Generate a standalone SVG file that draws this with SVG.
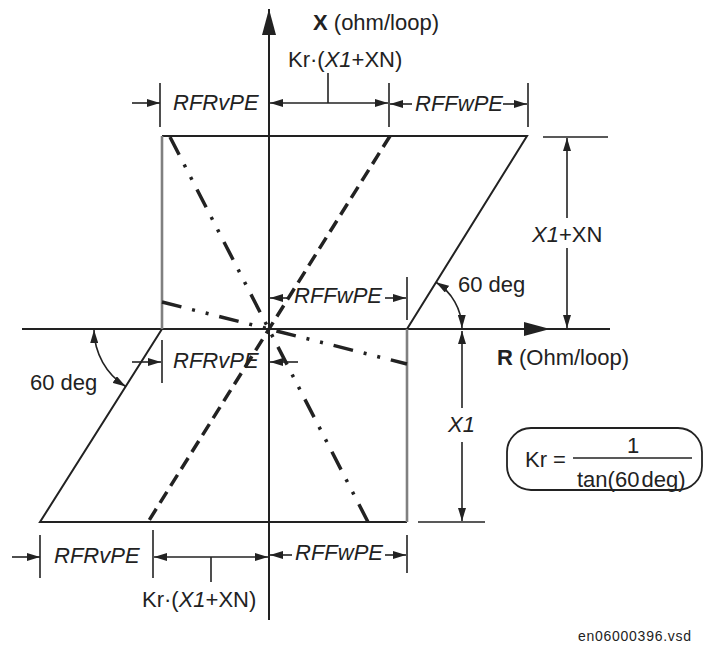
<svg xmlns="http://www.w3.org/2000/svg" width="703" height="646" viewBox="0 0 703 646">
<style>
  text { font-family: "Liberation Sans", Arial, sans-serif; font-size: 22px; fill: #222; }
  .it { font-style: italic; }
  .b { font-weight: bold; }
  .ax { stroke: #222; stroke-width: 2; fill: none; }
  .edge { stroke: #222; stroke-width: 2; fill: none; }
  .gedge { stroke: #808080; stroke-width: 2.6; fill: none; }
  .dim { stroke: #222; stroke-width: 1.6; fill: none; }
  .dimA { stroke: #222; stroke-width: 1.6; fill: none; marker-end: url(#arr); }
  .dimAA { stroke: #222; stroke-width: 1.6; fill: none; marker-start: url(#arr); marker-end: url(#arr); }
  .dash { stroke: #222; stroke-width: 3.5; fill: none; stroke-dasharray: 13 7; }
  .dd { stroke: #222; stroke-width: 3.5; fill: none; stroke-dasharray: 20 11 3 11 3 11; }
</style>
<defs>
  <marker id="arr" viewBox="0 0 13 8" refX="13" refY="4" markerWidth="13" markerHeight="8" markerUnits="userSpaceOnUse" orient="auto-start-reverse">
    <path d="M0,0 L13,4 L0,8 z" fill="#222"/>
  </marker>
  <marker id="axh" viewBox="0 0 26 14" refX="26" refY="7" markerWidth="26" markerHeight="14" markerUnits="userSpaceOnUse" orient="auto">
    <path d="M0,0 L26,7 L0,14 z" fill="#222"/>
  </marker>
</defs>

<g id="axes">
  <line class="ax" x1="269" y1="620" x2="269" y2="9" marker-end="url(#axh)"/>
  <line class="ax" x1="22" y1="329" x2="550" y2="329" marker-end="url(#axh)"/>
  <line class="ax" x1="540" y1="329" x2="610" y2="329"/>
  <text x="313" y="30"><tspan class="b">X</tspan> (ohm/loop)</text>
  <text x="497" y="365"><tspan class="b">R</tspan> (Ohm/loop)</text>
</g>

<g id="characteristic">
  <polyline class="edge" points="162,136 527,136 407,329"/>
  <polyline class="edge" points="162,329 40,522 407,522"/>
  <line class="gedge" x1="162" y1="136" x2="162" y2="329"/>
  <line class="gedge" x1="407" y1="329" x2="407" y2="522"/>
  <line class="dash" x1="390" y1="136" x2="148" y2="522"/>
  <line class="dd" x1="170" y1="137" x2="368" y2="522"/>
  <line class="dd" x1="162" y1="302" x2="407" y2="364"/>
</g>

<g id="formula">
  <rect x="507" y="428" width="195" height="62" rx="24" ry="24" fill="none" stroke="#222" stroke-width="1.8"/>
  <text x="525" y="467">Kr =</text>
  <line x1="573" y1="458" x2="692" y2="458" stroke="#222" stroke-width="1.6"/>
  <text x="633" y="453" text-anchor="middle">1</text>
  <text x="577" y="487" style="word-spacing:-4px">tan(60 deg)</text>
</g>

<g id="connectors">
  <!-- top dimension row -->
  <line class="dim" x1="160" y1="83" x2="160" y2="127"/>
  <line class="dim" x1="389" y1="83" x2="389" y2="127"/>
  <line class="dim" x1="528" y1="83" x2="528" y2="127"/>
  <line class="dimA" x1="132" y1="103" x2="160" y2="103"/>
  <line class="dimAA" x1="270" y1="103" x2="388" y2="103"/>
  <line class="dim" x1="328" y1="73" x2="328" y2="103"/>
  <line class="dimA" x1="412" y1="104" x2="390" y2="104"/>
  <line class="dimA" x1="503" y1="104" x2="527" y2="104"/>
  <!-- right X1+XN -->
  <line class="dim" x1="543" y1="137" x2="608" y2="137"/>
  <line class="dimA" x1="567" y1="218" x2="567" y2="138"/>
  <line class="dimA" x1="567" y1="248" x2="567" y2="328"/>
  <!-- right X1 -->
  <line class="dim" x1="418" y1="522" x2="485" y2="522"/>
  <line class="dimA" x1="462" y1="408" x2="462" y2="331"/>
  <line class="dimA" x1="462" y1="442" x2="462" y2="521"/>
  <!-- 60 deg arcs -->
  <path class="dimAA" d="M 436 282.3 A 55 55 0 0 1 462 328"/>
  <path class="dimAA" d="M 94 330 A 68 68 0 0 0 125.7 386.5"/>
  <!-- middle RFFwPE -->
  <line class="dim" x1="407" y1="277" x2="407" y2="320"/>
  <line class="dimA" x1="288" y1="298" x2="270" y2="298"/>
  <line class="dimA" x1="385" y1="298" x2="406" y2="298"/>
  <!-- middle RFRvPE -->
  <line class="dim" x1="162" y1="340" x2="162" y2="383"/>
  <line class="dimA" x1="132" y1="362" x2="161" y2="362"/>
  <line class="dimA" x1="298" y1="362" x2="270" y2="362"/>
  <!-- bottom row -->
  <line class="dim" x1="40" y1="535" x2="40" y2="578"/>
  <line class="dim" x1="153" y1="530" x2="153" y2="578"/>
  <line class="dim" x1="407" y1="535" x2="407" y2="573"/>
  <line class="dimA" x1="12" y1="557" x2="40" y2="557"/>
  <line class="dimAA" x1="154" y1="557" x2="268" y2="557"/>
  <line class="dim" x1="211" y1="557" x2="211" y2="582"/>
  <line class="dimA" x1="292" y1="555" x2="270" y2="555"/>
  <line class="dimA" x1="385" y1="555" x2="406" y2="555"/>
</g>

<g id="labels">
  <text x="288" y="67">Kr·(<tspan class="it">X1</tspan>+XN)</text>
  <text class="it" x="173" y="110">RFRvPE</text>
  <text class="it" x="415" y="111">RFFwPE</text>
  <text x="532" y="242"><tspan class="it">X1</tspan>+XN</text>
  <text x="458" y="292">60 deg</text>
  <text class="it" x="294" y="303">RFFwPE</text>
  <text class="it" x="173" y="368">RFRvPE</text>
  <text x="30" y="390">60 deg</text>
  <text class="it" x="448" y="432">X1</text>
  <text class="it" x="54" y="563">RFRvPE</text>
  <text class="it" x="295" y="560">RFFwPE</text>
  <text x="142" y="607">Kr·(<tspan class="it">X1</tspan>+XN)</text>
  <text x="578" y="641" style="font-size:14px" textLength="113">en06000396.vsd</text>
</g>
</svg>
